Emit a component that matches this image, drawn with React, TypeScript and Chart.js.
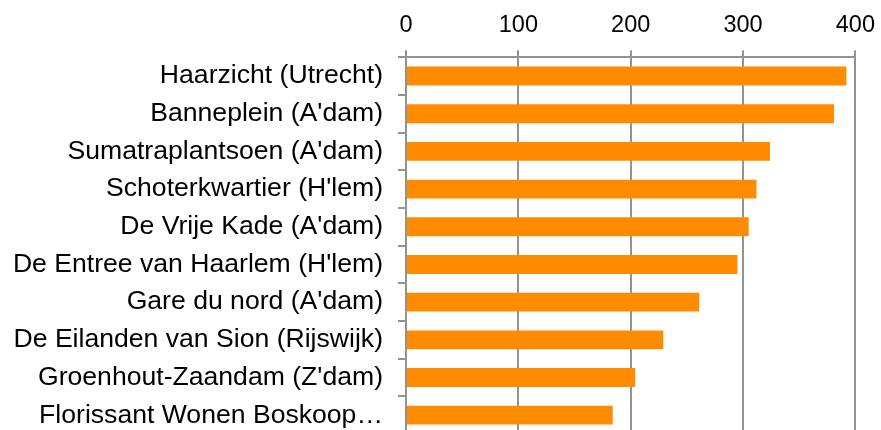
import React, { useEffect, useRef } from "react";
import { Chart, registerables } from "chart.js";

Chart.register(...registerables);

const categories = [
  "Haarzicht (Utrecht)",
  "Banneplein (A'dam)",
  "Sumatraplantsoen (A'dam)",
  "Schoterkwartier (H'lem)",
  "De Vrije Kade (A'dam)",
  "De Entree van Haarlem (H'lem)",
  "Gare du nord (A'dam)",
  "De Eilanden van Sion (Rijswijk)",
  "Groenhout-Zaandam (Z'dam)",
  "Florissant Wonen Boskoop…",
];

const values = [392, 381, 324, 312, 305, 295, 261, 229, 204, 184];

const xTicks = [0, 100, 200, 300, 400];

export default function App() {
  const ref = useRef<HTMLCanvasElement | null>(null);

  useEffect(() => {
    if (!ref.current) return;
    const gridColor = "#939393";
    const chart = new Chart(ref.current, {
      type: "bar",
      data: {
        labels: categories,
        datasets: [
          {
            data: values,
            backgroundColor: "#FF8C00",
            borderWidth: 0,
            barPercentage: 0.5,
            categoryPercentage: 1,
          },
        ],
      },
      options: {
        indexAxis: "y",
        responsive: false,
        animation: false,
        layout: { padding: { top: 0, right: 0, left: 0, bottom: 0 } },
        plugins: { legend: { display: false }, tooltip: { enabled: false } },
        scales: {
          x: {
            position: "top",
            min: 0,
            max: 400,
            afterBuildTicks: (axis: any) => {
              axis.ticks = xTicks.map((v) => ({ value: v }));
            },
            grid: {
              color: gridColor,
              lineWidth: 2,
              tickLength: 7,
              drawTicks: true,
            },
            border: { color: gridColor, width: 2 },
            ticks: {
              color: "#000",
              padding: 11,
              font: { family: "'Liberation Sans', Arial, sans-serif", size: 23.5 },
            },
          },
          y: {
            afterFit: (axis: any) => {
              axis.width = 406;
            },
            grid: {
              offset: true,
              drawOnChartArea: false,
              color: gridColor,
              lineWidth: 2,
              tickLength: 8,
            },
            border: { color: gridColor, width: 2 },
            ticks: {
              color: "#000",
              padding: 15,
              autoSkip: false,
              font: { family: "'Liberation Sans', Arial, sans-serif", size: 26.6 },
            },
          },
        },
      },
    } as any);
    return () => chart.destroy();
  }, []);

  return (
    <div
      style={{
        position: "fixed",
        top: 0,
        left: 0,
        width: 881,
        height: 430,
        overflow: "hidden",
      }}
    >
      <canvas ref={ref} width={886} height={465} style={{ display: "block" }} />
    </div>
  );
}
